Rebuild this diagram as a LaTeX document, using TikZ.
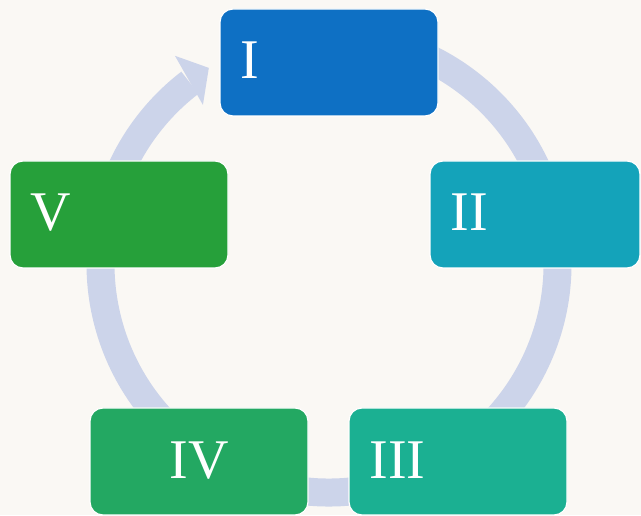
\documentclass[tikz,border=0pt]{standalone}
\usepackage{fontspec}
\setmainfont{Liberation Serif}
\usetikzlibrary{calc}

\definecolor{paper}{HTML}{FAF8F4}
\definecolor{ringc}{HTML}{CCD4EA}
\definecolor{cI}{HTML}{0E70C4}
\definecolor{cII}{HTML}{14A3BA}
\definecolor{cIII}{HTML}{1BB092}
\definecolor{cIV}{HTML}{23A862}
\definecolor{cV}{HTML}{26A03A}

\tikzset{
  stagebox/.style={
    rectangle, rounded corners=13pt, draw=white, line width=1.2pt,
    minimum width=218pt, minimum height=107pt,
    inner xsep=20.5pt, inner ysep=0pt,
    text=white, font=\fontsize{56}{60}\selectfont,
    text height=37pt, text depth=4pt,
    text width=177pt, align=left},
  ring/.style={draw=ringc, line width=28pt}
}

\begin{document}
\begin{tikzpicture}[x=1pt, y=1pt]
  % paper background
  \fill[paper] (0,0) rectangle (641,515);
  \useasboundingbox (0,0) rectangle (641,515);

  % centre of the cycle ring
  \coordinate (c) at (329,251);

  % ring running clockwise from stage I round to the arrow head
  \draw[ring] ($(c)+(100:228.5)$) arc[start angle=100, end angle=-232.5, radius=228.5];
  % arrow head pointing into stage I
  \fill[ringc] ($(c)+(126.5:259)$) -- ($(c)+(121.5:230)$) -- ($(c)+(128.4:203)$) -- cycle;

  % stages
  \node[stagebox, fill=cI]   (s1) at (329,452.5) {I};
  \node[stagebox, fill=cV]   (s5) at (119,300.5) {V};
  \node[stagebox, fill=cII, minimum width=210pt, text width=169pt] (s2) at (535,300.5) {II};
  \node[stagebox, fill=cIV, align=center] (s4) at (199,53.5) {IV};
  \node[stagebox, fill=cIII] (s3) at (458,53.5) {III};
\end{tikzpicture}
\end{document}
